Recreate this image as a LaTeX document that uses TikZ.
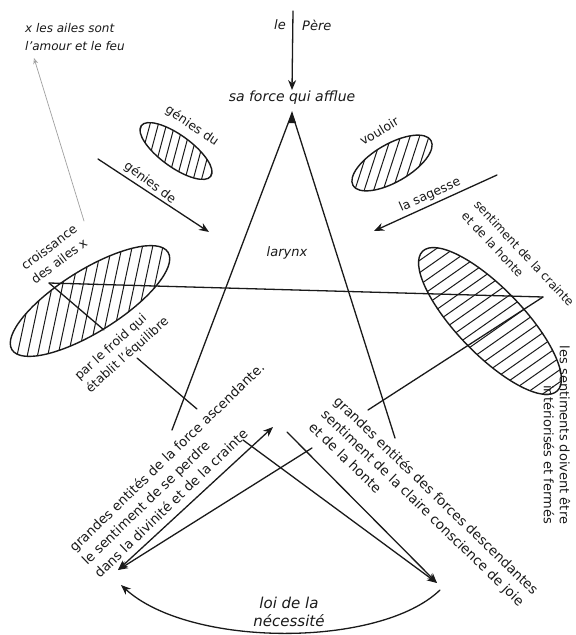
\documentclass[tikz,border=0pt]{standalone}
\usepackage{fontspec}
\setmainfont{DejaVu Sans}
\usepackage{tikz}
\usetikzlibrary{shapes.geometric,arrows.meta,positioning}
\definecolor{inkblk}{HTML}{1A1A1A}
\definecolor{faint}{HTML}{A0A0A0}
\tikzset{
  wingline/.style={line width=1.4pt,draw=inkblk},
  hatchline/.style={line width=1pt,draw=inkblk},
  flow/.style={-{Stealth[length=10pt,width=8pt]},line width=1.3pt,draw=inkblk},
  flowboth/.style={{Stealth[length=10pt,width=8pt]}-{Stealth[length=10pt,width=8pt]},line width=1.3pt,draw=inkblk},
  edge/.style={line width=1.3pt,draw=inkblk},
  hint/.style={-{Stealth[length=6pt,width=5pt,open]},line width=0.7pt,draw=faint},
  txt/.style={font=\fontsize{12.5}{17}\selectfont,text=inkblk,inner sep=1pt},
  itxt/.style={font=\fontsize{#1}{18}\selectfont\itshape,text=inkblk,inner sep=1pt},
}
% hatched wing: centre, tilt, x radius, y radius, hatch angle, gap
\newcommand{\hatchwing}[6]{%
  \begin{scope}
    \clip[rotate around={#2:#1}] #1 ellipse [x radius=#3, y radius=#4];
    \begin{scope}[shift={#1},rotate=#5]
      \foreach \k in {-14,...,14}
        \draw[hatchline] (-130,\k*#6) -- (130,\k*#6);
    \end{scope}
  \end{scope}
  \draw[wingline,rotate around={#2:#1}] #1 ellipse [x radius=#3, y radius=#4];}

\begin{document}
\begin{tikzpicture}[x=1pt,y=-1pt,line cap=round]
  \useasboundingbox[fill=white] (0,0) rectangle (576,635);
  % top arrow
  \node[itxt=13,anchor=east] (le) at (287,25) {le};
  \node[itxt=13,anchor=west] (pere) at (301,25) {Père};
  \coordinate (src) at (293,11);
  \node[itxt=14] (afflue) at (292,98) {sa force qui afflue};
  \draw[flow] (src) -- (afflue.north);
  \node[itxt=12,anchor=west,align=left] (ailes) at (24,37) {x les ailes sont\\l'amour et le feu};

  % wings
  \hatchwing{(176,151)}{-36}{43}{16}{75}{8}
  \hatchwing{(392,163)}{30}{45}{19}{72}{9}
  \hatchwing{(90,301)}{32}{92}{31}{78}{10}
  \hatchwing{(490,321)}{-46}{97}{33}{35}{10}

  % star
  \coordinate (apex) at (292,113);
  \coordinate (footl) at (172,430);
  \coordinate (footr) at (395,438);
  \coordinate (vl) at (49,283);
  \coordinate (vr) at (543,297);
  \coordinate (cutl) at (104,330);
  \coordinate (resl) at (137,358);
  \coordinate (endl) at (197,409);
  \coordinate (endr) at (368,410);
  \draw[edge] (footl) -- (apex) -- (footr);
  \fill[inkblk] (apex) -- ++(-4,10) -- ++(8,0) -- cycle;
  \draw[edge] (vl) -- (vr);
  \draw[edge] (vl) -- (cutl);
  \draw[edge] (resl) -- (endl);
  \draw[edge] (vr) -- (endr);
  \node[itxt=13] (larynx) at (287,253) {larynx};

  % labels round the wings
  \node[txt,rotate=-34] (gdu) at (192,126) {génies du};
  \node[txt,rotate=-37] (gde) at (150,183) {génies de};
  \coordinate (gstart) at (98,159);
  \coordinate (gend) at (209,232);
  \draw[flow] (gstart) -- (gend);

  \node[txt,rotate=31] (vlabel) at (379,131) {vouloir};
  \node[txt,rotate=24] (sagesse) at (430,195) {la sagesse};
  \coordinate (sstart) at (497,175);
  \coordinate (send) at (374,231);
  \draw[flow] (sstart) -- (send);

  \node[txt,rotate=37,align=center] (crois) at (54,254) {croissance\\des ailes x};
  \coordinate (xfoot) at (84,221);
  \coordinate (xtip) at (34,58);
  \draw[hint] (xfoot) -- (xtip);
  \node[txt,rotate=42,align=left] (froid) at (122,349) {par le froid qui\\établit l'équilibre};

  \node[txt,rotate=-47,align=left,font=\fontsize{12}{17}\selectfont] (crainte) at (518,259) {sentiment de la crainte\\et de la honte};
  \node[txt,rotate=-90,align=right,font=\fontsize{13}{16}\selectfont] (fermes) at (557,435) {les sentiments doivent être\\intériorisés et fermés};

  % lower part
  \node[txt,rotate=44,align=left,font=\fontsize{13.3}{18}\selectfont] (ascend) at (179,470) {grandes entités de la force ascendante.\\le sentiment de se perdre\\dans la divinité et de la crainte};
  \node[txt,rotate=-44,align=left,font=\fontsize{13.5}{18}\selectfont] (descend) at (424,508) {grandes entités des forces descendantes\\sentiment de la claire conscience de joie\\et de la honte};
  \coordinate (up) at (273,427);
  \coordinate (tipl) at (118,570);
  \coordinate (tipr) at (437,583);
  \coordinate (arcl) at (121,585);
  \coordinate (arcr) at (440,590);
  \coordinate (sb) at (312,448);
  \coordinate (sc) at (243,440);
  \coordinate (sd) at (287,432);
  \draw[flowboth] (tipl) -- (up);
  \draw[flow] (sb) -- (tipl);
  \draw[flow] (sc) -- (tipr);
  \draw[flow] (sd) -- (tipr);
  \draw[flow] (arcr) .. controls (380,648) and (190,648) .. (arcl);
  \node[itxt=15,align=center] (loi) at (289,612) {loi de la\\nécessité};
\end{tikzpicture}
\end{document}
